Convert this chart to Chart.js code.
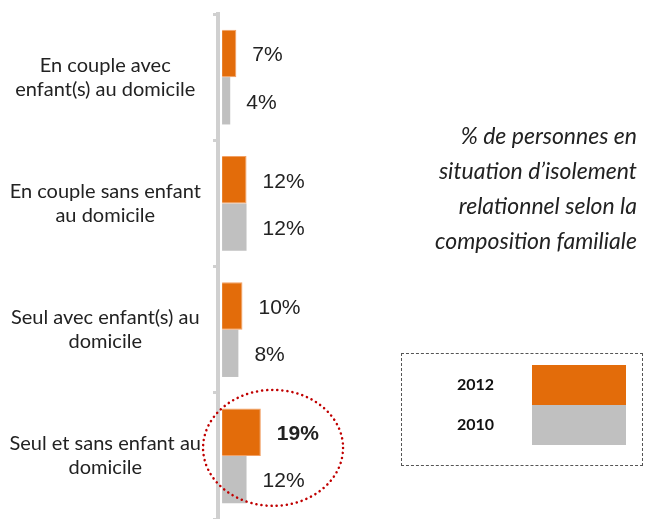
<!DOCTYPE html>
<html>
<head>
<meta charset="utf-8">
<script src="https://cdn.jsdelivr.net/npm/chart.js@4.4.0/dist/chart.umd.min.js"></script>
<style>
  body { margin: 0; background: #fff; }
  #wrap { position: relative; width: 646px; height: 519px; overflow: hidden; }
  #title { position: absolute; right: 9px; top: 118px; text-align: right;
           font: italic 23px Lato, sans-serif; line-height: 35px; color: #222; }
  #legend { position: absolute; left: 401px; top: 353px; width: 240px; height: 111px;
            border: 1px dashed #555; font: bold 16px Lato, sans-serif; color: #111; }
  #legend .sw { position: absolute; left: 130px; width: 94px; }
  #legend .lb { position: absolute; left: 55px; line-height: 20px; }
</style>
</head>
<body>
<div id="wrap">
  <canvas id="chart" width="646" height="519"></canvas>
  <div id="title">% de personnes en<br>situation d’isolement<br>relationnel selon la<br>composition familiale</div>
  <div id="legend"></div>
</div>
<script>
const categories = [
  ['En couple avec', 'enfant(s) au domicile'],
  ['En couple sans enfant', 'au domicile'],
  ['Seul avec enfant(s) au', 'domicile'],
  ['Seul et sans enfant au', 'domicile']
];
const years = ['2012', '2010'];
const values2012 = [7, 12, 10, 19];
const values2010 = [4, 12, 8, 12];
const highlighted = 3;

const orange = '#E36C0A';
const grey = '#C0C0C0';

// legend built from the series
const legend = document.getElementById('legend');
[orange, grey].forEach((col, i) => {
  const sw = document.createElement('div');
  sw.className = 'sw';
  sw.style.top = (11 + i * 40) + 'px';
  sw.style.height = '40px';
  sw.style.background = col;
  legend.appendChild(sw);
  const lb = document.createElement('div');
  lb.className = 'lb';
  lb.style.top = (20 + i * 40) + 'px';
  lb.textContent = years[i];
  legend.appendChild(lb);
});

// percentage labels next to bars + dotted ellipse round the highlighted group
const barLabels = {
  id: 'barLabels',
  afterDatasetsDraw(chart) {
    const ctx = chart.ctx;
    ctx.save();
    ctx.fillStyle = '#222';
    ctx.textBaseline = 'middle';
    ctx.textAlign = 'left';
    chart.data.datasets.forEach((ds, di) => {
      chart.getDatasetMeta(di).data.forEach((bar, i) => {
        const bold = (di === 0 && i === highlighted);
        ctx.font = (bold ? 'bold ' : '') + '21px "Liberation Sans", Arial, sans-serif';
        ctx.fillText(ds.data[i] + '%', bar.x + 16, bar.y + 2);
      });
    });

    const xs = chart.scales.x, ys = chart.scales.y;
    const cx = xs.getPixelForValue(25);
    const cy = ys.getPixelForValue(highlighted) - 8;
    ctx.beginPath();
    ctx.ellipse(cx, cy, 70, 58, 0, 0, Math.PI * 2);
    ctx.strokeStyle = '#C00000';
    ctx.lineWidth = 2.5;
    ctx.lineCap = 'round';
    ctx.setLineDash([0.1, 5]);
    ctx.stroke();
    ctx.restore();
  }
};

new Chart(document.getElementById('chart'), {
  type: 'bar',
  data: {
    labels: categories,
    datasets: [{
      label: years[0],
      data: values2012,
      backgroundColor: orange,
      borderColor: '#F2A064',
      borderWidth: 1
    }, {
      label: years[1],
      data: values2010,
      backgroundColor: grey,
      borderWidth: 0
    }]
  },
  options: {
    indexAxis: 'y',
    responsive: false,
    animation: false,
    devicePixelRatio: 1,
    categoryPercentage: 0.75,
    barPercentage: 1,
    layout: { padding: { top: 14, bottom: 0, right: 220, left: 0 } },
    plugins: { legend: { display: false }, tooltip: { enabled: false } },
    scales: {
      x: { display: false, min: -2, max: 100 },
      y: {
        afterFit(scale) {
          scale.width = 218;
          scale.paddingTop = 0;
          scale.paddingBottom = 0;
        },
        grid: { offset: true, drawOnChartArea: false, drawTicks: true, tickLength: 5, color: '#D0D0D0', lineWidth: 3 },
        border: { display: true, color: '#D0D0D0', width: 4 },
        ticks: {
          crossAlign: 'center',
          padding: 12,
          color: '#222',
          font: { family: 'Lato', size: 20, lineHeight: 1.2 }
        }
      }
    }
  },
  plugins: [barLabels]
});
</script>
</body>
</html>
